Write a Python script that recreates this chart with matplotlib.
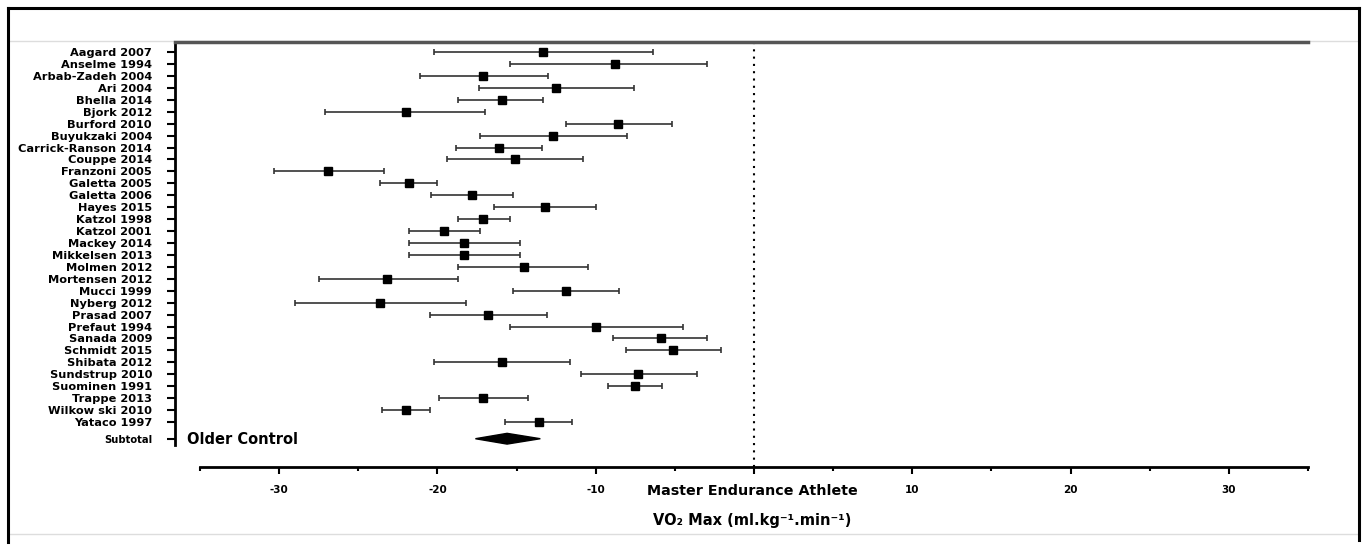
import matplotlib
matplotlib.use("Agg")
import matplotlib.pyplot as plt
from matplotlib.lines import Line2D
from matplotlib.patches import Polygon
from matplotlib.ticker import MultipleLocator, FixedLocator

studies = [
    "Aagard 2007", "Anselme 1994", "Arbab-Zadeh 2004", "Ari 2004",
    "Bhella 2014", "Bjork 2012", "Burford 2010", "Buyukzaki 2004",
    "Carrick-Ranson 2014", "Couppe 2014", "Franzoni 2005", "Galetta 2005",
    "Galetta 2006", "Hayes 2015", "Katzol 1998", "Katzol 2001",
    "Mackey 2014", "Mikkelsen 2013", "Molmen 2012", "Mortensen 2012",
    "Mucci 1999", "Nyberg 2012", "Prasad 2007", "Prefaut 1994",
    "Sanada 2009", "Schmidt 2015", "Shibata 2012", "Sundstrup 2010",
    "Suominen 1991", "Trappe 2013", "Wilkow ski 2010", "Yataco 1997",
]
effect = [
    -13.3, -8.8, -17.1, -12.5, -15.9, -22.0, -8.6, -12.7,
    -16.1, -15.1, -26.9, -21.8, -17.8, -13.2, -17.1, -19.6,
    -18.3, -18.3, -14.5, -23.2, -11.9, -23.6, -16.8, -10.0,
    -5.9, -5.1, -15.9, -7.3, -7.5, -17.1, -22.0, -13.6,
]
ci_low = [
    -20.2, -15.4, -21.1, -17.4, -18.7, -27.1, -11.9, -17.3,
    -18.8, -19.4, -30.3, -23.6, -20.4, -16.4, -18.7, -21.8,
    -21.8, -21.8, -18.7, -27.5, -15.2, -29.0, -20.5, -15.4,
    -8.9, -8.1, -20.2, -10.9, -9.2, -19.9, -23.5, -15.7,
]
ci_high = [
    -6.4, -3.0, -13.0, -7.6, -13.3, -17.0, -5.2, -8.0,
    -13.4, -10.8, -23.4, -20.0, -15.2, -10.0, -15.4, -17.3,
    -14.8, -14.8, -10.5, -18.7, -8.5, -18.2, -13.1, -4.5,
    -3.0, -2.1, -11.6, -3.6, -5.8, -14.3, -20.5, -11.5,
]

subtotal_label = "Subtotal"
subtotal_est = -15.6
subtotal_low = -17.6
subtotal_high = -13.5

x_ticks = [-30, -20, -10, 0, 10, 20, 30]
x_ticklabels = ["-30", "-20", "-10", "", "10", "20", "30"]

plt.rcParams["font.family"] = "DejaVu Sans"
plt.rcParams["font.weight"] = "bold"

W, H = 1367, 547
fig = plt.figure(figsize=(W / 100, H / 100), dpi=100)


def fx(p):
    return p / W


def fy(p):
    return 1 - p / H


# frame around the picture
for xs, ys, c, lw in [
    ([8, 1359], [41, 41], "#dddddd", 1.0),
    ([8, 1359], [534, 534], "#dddddd", 1.0),
    ([8, 1359], [8, 8], "black", 2.2),
    ([8, 8], [8, 542], "black", 2.2),
    ([1359, 1359], [8, 540], "black", 2.2),
]:
    fig.add_artist(Line2D([fx(v) for v in xs], [fy(v) for v in ys],
                          color=c, lw=lw, transform=fig.transFigure))

ax = fig.add_axes([fx(200), fy(467), fx(1308) - fx(200), fy(42) - fy(467)])

rows = list(range(len(studies)))
sub_row = len(studies) + 0.4

xerr = [[e - l for e, l in zip(effect, ci_low)],
        [h - e for e, h in zip(effect, ci_high)]]
ax.errorbar(effect, rows, xerr=xerr, fmt="s", color="black", ms=6.2,
            ecolor="#333333", elinewidth=1.2, capsize=2, capthick=1.2)

diamond = Polygon([(subtotal_low, sub_row), (subtotal_est, sub_row - 0.45),
                   (subtotal_high, sub_row), (subtotal_est, sub_row + 0.45)],
                  closed=True, facecolor="black", edgecolor="black")
ax.add_patch(diamond)

ax.axvline(0, color="black", ls=(0, (1, 2.5)), lw=1.5)

ax.set_xlim(-35, 35)
ax.set_ylim(34.77, -0.84)

ax.set_yticks(rows + [sub_row])
ax.set_yticklabels(studies + [subtotal_label])
ax.get_yticklabels()[-1].set_fontsize(7)
ax.xaxis.set_major_locator(FixedLocator(x_ticks))
ax.set_xticklabels(x_ticklabels)
ax.xaxis.set_minor_locator(MultipleLocator(5))

for s in ["top", "right"]:
    ax.spines[s].set_visible(False)
ax.spines["left"].set_position(("outward", 18))
ax.spines["left"].set_bounds(-0.84, 32.9)
ax.spines["left"].set_linewidth(2)
ax.spines["bottom"].set_linewidth(2)

ax.tick_params(axis="y", direction="out", length=5.5, width=1.5, pad=11,
               labelsize=8.2)
ax.get_yticklabels()[-1].set_fontsize(7.2)
ax.tick_params(axis="x", which="major", direction="out", length=5, width=1.5,
               pad=8, labelsize=7.5)
ax.tick_params(axis="x", which="minor", direction="out", length=3, width=1.5)

fig.add_artist(Line2D([fx(175), fx(1308)], [fy(42), fy(42)], color="#555555",
                      lw=2.5, transform=fig.transFigure))

fig.text(fx(187), fy(439), "Older Control", ha="left", va="center",
         fontsize=10.5, fontweight="bold")
fig.text(fx(752), fy(491), "Master Endurance Athlete", ha="center",
         va="center", fontsize=10.3, fontweight="bold")
fig.text(fx(752), fy(521), "VO₂ Max (ml.kg⁻¹.min⁻¹)", ha="center",
         va="center", fontsize=10.5, fontweight="bold")

fig.savefig("out.png", dpi=100)
plt.close(fig)
